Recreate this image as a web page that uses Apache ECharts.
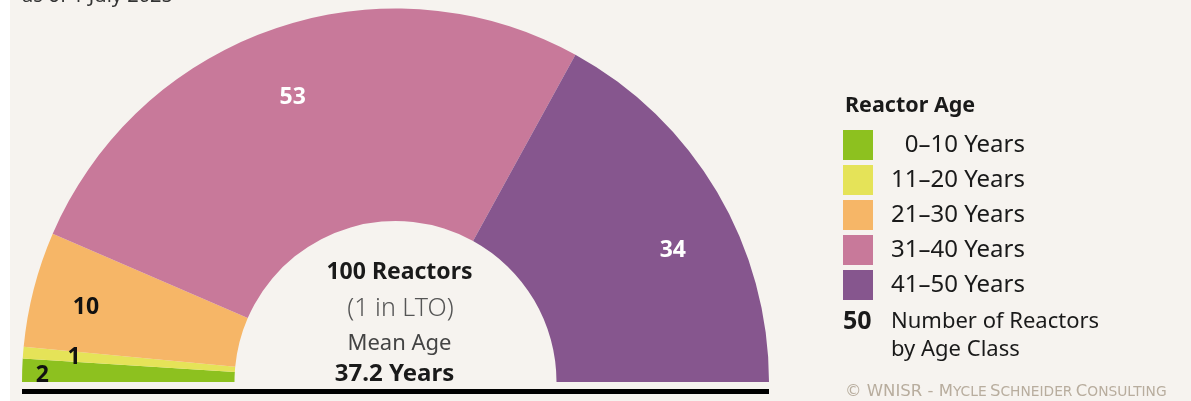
<!DOCTYPE html>
<html>
<head>
<meta charset="utf-8">
<script src="https://cdn.jsdelivr.net/npm/echarts@6/dist/echarts.min.js"></script>
<style>
html,body{margin:0;padding:0;background:#fff;}
#chart{width:1191px;height:401px;}
</style>
</head>
<body>
<div id="chart"></div>
<script>
// ---- data ----
const categories = ['0\u201310 Years', '11\u201320 Years', '21\u201330 Years', '31\u201340 Years', '41\u201350 Years'];
const reactorCounts = [2, 1, 10, 53, 34];
const reactorsInLTO = 1;
const meanAgeYears = 37.2;
const asOfText = 'as of 1 July 2025';

// ---- styles ----
const FONT = '"Noto Sans", "Open Sans", sans-serif';
const sliceColors = ['#8dc11f', '#e5e358', '#f6b667', '#c8799a', '#86568e'];
const labelColors = ['#111', '#111', '#111', '#fff', '#fff'];
const labelNudges = [[-45, 3], [-14, 0], [-11, 2], [-3, 7], [12, 25]];
const cx = 395.5, cy = 382, R = 373.5, R0 = 161;

const total = reactorCounts.reduce((a, b) => a + b, 0);

const chart = echarts.init(document.getElementById('chart'), null, {renderer: 'canvas'});

const pieData = categories.map((name, i) => ({
  name: name,
  value: reactorCounts[i],
  itemStyle: {color: sliceColors[i]}
}));
const labelData = categories.map((name, i) => ({
  name: name,
  value: reactorCounts[i],
  itemStyle: {color: 'rgba(0,0,0,0)'},
  label: {color: labelColors[i], offset: labelNudges[i]}
}));

function legendName(name) {
  return /^\d\u2013/.test(name) ? '\u2007' + name : name;
}

chart.setOption({
  backgroundColor: '#ffffff',
  animation: false,
  legend: {
    orient: 'vertical',
    left: 838,
    top: 125,
    itemWidth: 30,
    itemHeight: 30,
    itemGap: 5,
    icon: 'rect',
    selectedMode: false,
    data: categories,
    formatter: legendName,
    textStyle: {
      fontFamily: FONT,
      fontSize: 24,
      color: '#1a1a1a',
      padding: [0, 0, 0, 13]
    }
  },
  graphic: [
    {type: 'rect', z: -10, shape: {x: 10, y: 0, width: 1181, height: 401}, style: {fill: '#f6f3ef'}},
    {type: 'text', x: 22, y: 6, style: {text: asOfText, font: '20px ' + FONT, fill: '#333', verticalAlign: 'bottom'}},
    {type: 'rect', shape: {x: cx - R, y: cy + 7, width: 2 * R, height: 5}, style: {fill: '#000'}},
    {type: 'text', x: cx + 4, y: 272, style: {text: total + ' Reactors', font: 'bold 23px ' + FONT, fill: '#1a1a1a', align: 'center', verticalAlign: 'middle'}},
    {type: 'text', x: cx + 5, y: 309, style: {text: '(' + reactorsInLTO + ' in LTO)', font: '300 25px ' + FONT, fill: '#555', align: 'center', verticalAlign: 'middle'}},
    {type: 'text', x: cx + 4, y: 344, style: {text: 'Mean Age', font: '22px ' + FONT, fill: '#444', align: 'center', verticalAlign: 'middle'}},
    {type: 'text', x: cx - 1, y: 374, style: {text: meanAgeYears.toFixed(1) + ' Years', font: 'bold 24px ' + FONT, fill: '#1a1a1a', align: 'center', verticalAlign: 'middle'}},
    {type: 'text', x: 845, y: 106, style: {text: 'Reactor Age', font: 'bold 21.5px ' + FONT, fill: '#1a1a1a', verticalAlign: 'middle'}},
    {type: 'text', x: 843, y: 322, style: {text: '50', font: 'bold 25px ' + FONT, fill: '#1a1a1a', verticalAlign: 'middle'}},
    {type: 'text', x: 891, y: 322, style: {text: 'Number of Reactors', font: '22px ' + FONT, fill: '#1a1a1a', verticalAlign: 'middle'}},
    {type: 'text', x: 891, y: 350, style: {text: 'by Age Class', font: '22px ' + FONT, fill: '#1a1a1a', verticalAlign: 'middle'}},
    {type: 'text', x: 845, y: 392, style: {
      text: '{a|\u00a9 WNISR - M}{b|YCLE} {a|S}{b|CHNEIDER} {a|C}{b|ONSULTING}',
      verticalAlign: 'middle',
      rich: {
        a: {fontFamily: '"DejaVu Sans", sans-serif', fontSize: 16.5, fill: '#b8ad9e', color: '#b8ad9e'},
        b: {fontFamily: '"DejaVu Sans", sans-serif', fontSize: 13.8, fill: '#b8ad9e', color: '#b8ad9e'}
      }
    }}
  ],
  series: [
    {
      type: 'pie',
      center: [cx, cy],
      radius: [R0, R],
      startAngle: 180,
      endAngle: 0,
      clockwise: true,
      silent: true,
      label: {show: false},
      labelLine: {show: false},
      emphasis: {disabled: true},
      data: pieData
    },
    {
      type: 'pie',
      center: [cx, cy],
      radius: [237, R],
      startAngle: 180,
      endAngle: 0,
      clockwise: true,
      silent: true,
      legendHoverLink: false,
      avoidLabelOverlap: false,
      label: {
        show: true,
        position: 'inside',
        formatter: '{c}',
        fontFamily: FONT,
        fontWeight: 'bold',
        fontSize: 23
      },
      labelLine: {show: false},
      emphasis: {disabled: true},
      data: labelData
    }
  ]
});
</script>
</body>
</html>
